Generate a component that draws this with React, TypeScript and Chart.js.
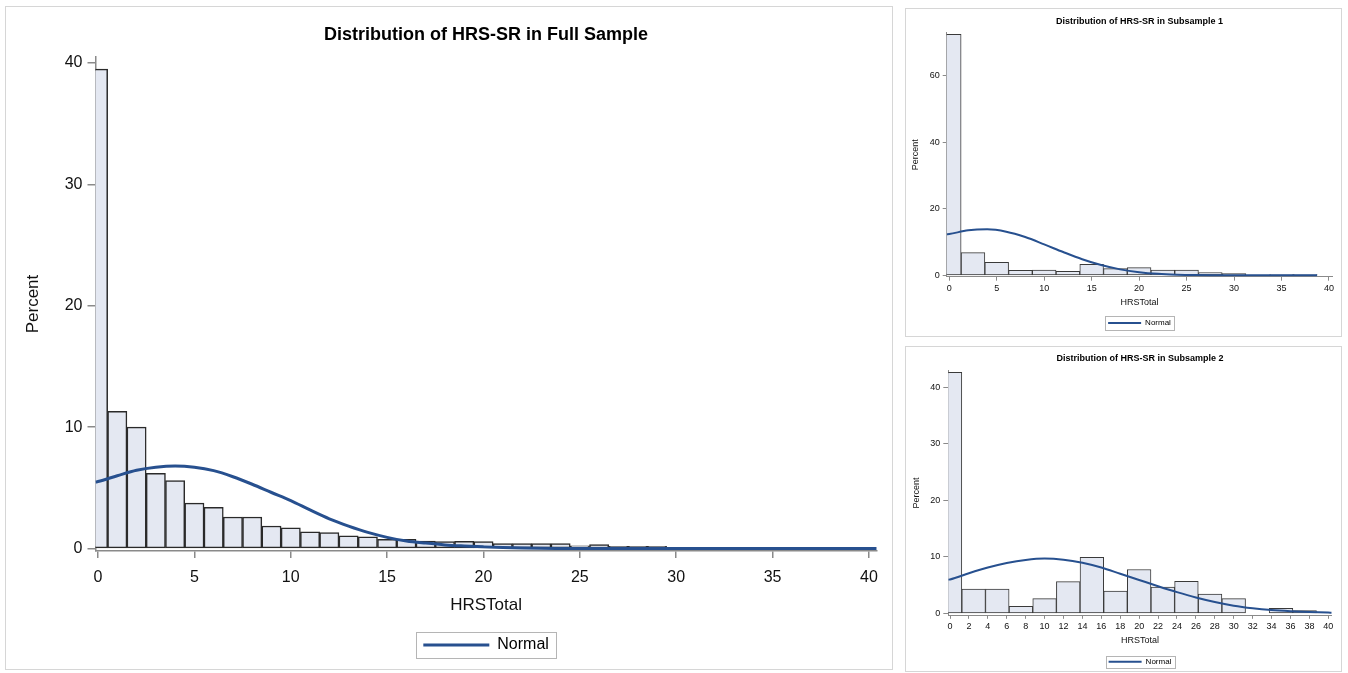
import React, { useEffect, useRef } from "react";
import { Chart, registerables } from "chart.js";

Chart.register(...registerables);

// ---------- Full sample ----------
const fullBins = [0, 1, 2, 3, 4, 5, 6, 7, 8, 9, 10, 11, 12, 13, 14, 15, 16, 17, 18, 19, 20, 21, 22, 23, 24, 25, 26, 27, 28, 29];
const fullPercent = [39.5, 11.3, 10.0, 6.2, 5.6, 3.75, 3.4, 2.6, 2.6, 1.86, 1.7, 1.37, 1.32, 1.04, 0.96, 0.77, 0.77, 0.62, 0.58, 0.6, 0.58, 0.41, 0.41, 0.41, 0.41, 0.22, 0.33, 0.19, 0.19, 0.19];
const fullCurveX = [-0.13, 0, 1, 2, 3, 4, 5, 6, 7, 8, 9, 10, 11, 12, 13, 14, 15, 16, 17, 18, 19, 20, 21, 22, 24, 26, 40.4];
const fullCurveY = [5.48, 5.52, 6.0, 6.45, 6.7, 6.8, 6.7, 6.42, 5.92, 5.3, 4.62, 3.95, 3.18, 2.45, 1.85, 1.33, 0.92, 0.63, 0.45, 0.3, 0.21, 0.14, 0.08, 0.04, 0.01, 0, 0];
const fullXTicks = [0, 5, 10, 15, 20, 25, 30, 35, 40];
const fullYTicks = [0, 10, 20, 30, 40];

// ---------- Subsample 1 ----------
const sub1Bins = [0, 2.5, 5, 7.5, 10, 12.5, 15, 17.5, 20, 22.5, 25, 27.5, 30, 32.5, 35, 37.5];
const sub1Percent = [72.3, 6.8, 3.9, 1.5, 1.6, 1.2, 3.3, 2.0, 2.3, 1.6, 1.6, 0.8, 0.5, 0, 0.2, 0.2];
const sub1CurveX = [-0.27, 0, 2, 4, 6, 8, 10, 12, 14, 16, 18, 20, 22, 24, 26, 28, 30, 38.75];
const sub1CurveY = [12.3, 12.4, 13.5, 13.8, 13.1, 11.5, 9.3, 7.0, 4.85, 3.1, 1.8, 0.95, 0.45, 0.2, 0.08, 0.03, 0.01, 0];
const sub1XTicks = [0, 5, 10, 15, 20, 25, 30, 35, 40];
const sub1YTicks = [0, 20, 40, 60];

// ---------- Subsample 2 ----------
const sub2Bins = [0, 2.5, 5, 7.5, 10, 12.5, 15, 17.5, 20, 22.5, 25, 27.5, 30, 32.5, 35, 37.5];
const sub2Percent = [42.65, 4.3, 4.3, 1.24, 2.6, 5.6, 9.9, 3.94, 7.76, 4.66, 5.66, 3.4, 2.6, 0, 0.9, 0.5];
const sub2CurveX = [-0.18, 0, 2, 4, 6, 8, 10, 12, 14, 16, 18, 20, 22, 24, 26, 28, 30, 32, 34, 36, 38, 40, 40.36];
const sub2CurveY = [5.95, 6.0, 7.1, 8.1, 8.9, 9.45, 9.7, 9.5, 8.95, 8.1, 7.0, 5.9, 4.8, 3.75, 2.8, 2.0, 1.35, 0.9, 0.58, 0.37, 0.22, 0.13, 0.12];
const sub2XTicks = [0, 2, 4, 6, 8, 10, 12, 14, 16, 18, 20, 22, 24, 26, 28, 30, 32, 34, 36, 38, 40];
const sub2YTicks = [0, 10, 20, 30, 40];

const FONT = "'Liberation Sans', Arial, Helvetica, sans-serif";
const BAR_FILL = "#e4e8f2";
const CURVE = "#27508f";
const AXIS = "#8a8a8a";
const TEXT = "#111111";

type Spec = {
  title: string;
  bins: number[];
  pct: number[];
  cx: number[];
  cy: number[];
  xTicks: number[];
  yTicks: number[];
  xMin: number; xMax: number; yMin: number; yMax: number;
  canvas: { left: number; top: number; w: number; h: number };
  area: { left: number; right: number; top: number; bottom: number };
  titleFont: number; titlePadTop: number;
  tickFont: number; axisTitleFont: number;
  xTickLen: number; xTickPad: number; yTickLen: number; yTickPad: number;
  xTitlePadBottom: number; yTitlePadTop: number;
  legendFont: number; legendPad: number; legendBoxW: number; legendLineH: number;
  framePadX: number; frameH: number;
  padBottom: number;
  curveWidth: number; barBorder: number; barEdge: string; axisWidth: number;
};

const legendFrame = {
  id: "legendFrame",
  afterDraw(chart: any, _args: any, opts: any) {
    const lg = chart.legend;
    if (!lg || !lg.legendHitBoxes || !lg.legendHitBoxes.length) return;
    const hb = lg.legendHitBoxes[0];
    const ctx = chart.ctx;
    ctx.save();
    ctx.strokeStyle = opts.color || "#bbbbbb";
    ctx.lineWidth = 1;
    const cy = hb.top + hb.height / 2;
    ctx.strokeRect(
      Math.round(hb.left - opts.padX) + 0.5,
      Math.round(cy - opts.h / 2) + 0.5,
      Math.round(hb.width + 2 * opts.padX),
      Math.round(opts.h)
    );
    ctx.restore();
  },
};

function buildConfig(s: Spec): any {
  const titlePadBottom = s.area.top - s.titlePadTop - s.titleFont * 1.2;
  const legendH = s.legendFont + s.legendPad + 10;
  const xAxisH = s.canvas.h - s.padBottom - legendH - s.area.bottom;
  const yAxisW = s.area.left;
  const padRight = s.canvas.w - s.area.right;

  return {
    type: "bar",
    data: {
      datasets: [
        {
          type: "line",
          label: "Normal",
          data: s.cx.map((x, i) => ({ x, y: s.cy[i] })),
          borderColor: CURVE,
          backgroundColor: CURVE,
          borderWidth: s.curveWidth,
          pointRadius: 0,
          tension: 0.4,
          cubicInterpolationMode: "monotone",
          fill: false,
          order: 0,
        },
        {
          type: "bar",
          label: "Percent",
          data: s.bins.map((x, i) => ({ x, y: s.pct[i] })),
          backgroundColor: BAR_FILL,
          borderColor: s.barEdge,
          borderWidth: s.barBorder,
          borderSkipped: false,
          barThickness: "flex",
          barPercentage: 1,
          categoryPercentage: 1,
          clip: 0,
          order: 1,
        },
      ],
    },
    options: {
      responsive: false,
      animation: false,
      events: [],
      layout: { padding: { left: 0, right: padRight, top: 0, bottom: s.padBottom } },
      scales: {
        x: {
          type: "linear",
          min: s.xMin,
          max: s.xMax,
          offset: false,
          afterBuildTicks: (sc: any) => {
            sc.ticks = s.xTicks.map((v) => ({ value: v }));
          },
          afterFit: (sc: any) => {
            sc.height = xAxisH;
          },
          ticks: {
            autoSkip: false,
            maxRotation: 0,
            minRotation: 0,
            padding: s.xTickPad,
            color: TEXT,
            font: { family: FONT, size: s.tickFont },
          },
          grid: {
            offset: false,
            drawOnChartArea: false,
            drawTicks: true,
            tickLength: s.xTickLen,
            color: AXIS,
            tickColor: AXIS,
            lineWidth: s.axisWidth,
          },
          border: { display: true, color: AXIS, width: s.axisWidth },
          title: {
            display: true,
            text: "HRSTotal",
            color: TEXT,
            font: { family: FONT, size: s.axisTitleFont },
            padding: { top: 0, bottom: s.xTitlePadBottom },
          },
        },
        y: {
          type: "linear",
          min: s.yMin,
          max: s.yMax,
          afterBuildTicks: (sc: any) => {
            sc.ticks = s.yTicks.map((v) => ({ value: v }));
          },
          afterFit: (sc: any) => {
            sc.width = yAxisW;
          },
          ticks: {
            padding: s.yTickPad,
            color: TEXT,
            font: { family: FONT, size: s.tickFont },
          },
          grid: {
            drawOnChartArea: false,
            drawTicks: true,
            tickLength: s.yTickLen,
            color: AXIS,
            tickColor: AXIS,
            lineWidth: s.axisWidth,
          },
          border: { display: true, color: AXIS, width: s.axisWidth },
          title: {
            display: true,
            text: "Percent",
            color: TEXT,
            font: { family: FONT, size: s.axisTitleFont },
            padding: { top: s.yTitlePadTop, bottom: 0 },
          },
        },
      },
      plugins: {
        title: {
          display: true,
          text: s.title,
          fullSize: false,
          color: "#000000",
          font: { family: FONT, size: s.titleFont, weight: "bold" },
          padding: { top: s.titlePadTop, bottom: titlePadBottom },
        },
        legend: {
          display: true,
          position: "bottom",
          align: "center",
          fullSize: false,
          labels: {
            color: "#000000",
            font: { family: FONT, size: s.legendFont },
            boxWidth: s.legendBoxW,
            boxHeight: s.legendLineH,
            padding: s.legendPad,
            generateLabels: () => [
              {
                text: "Normal",
                fillStyle: CURVE,
                strokeStyle: CURVE,
                lineWidth: 0,
                hidden: false,
                datasetIndex: 0,
                fontColor: "#000000",
              },
            ],
          },
        },
        tooltip: { enabled: false },
        legendFrame: { padX: s.framePadX, h: s.frameH, color: "#b5b5b5" },
      },
    },
    plugins: [legendFrame],
  };
}

const fullSpec: Spec = {
  title: "Distribution of HRS-SR in Full Sample",
  bins: fullBins, pct: fullPercent, cx: fullCurveX, cy: fullCurveY,
  xTicks: fullXTicks, yTicks: fullYTicks,
  xMin: -0.13, xMax: 40.4, yMin: -0.2, yMax: 40.5,
  canvas: { left: 6, top: 6, w: 886, h: 663 },
  area: { left: 89.5, right: 870.7, top: 51, bottom: 545 },
  titleFont: 18, titlePadTop: 18,
  tickFont: 16, axisTitleFont: 17,
  xTickLen: 7, xTickPad: 10, yTickLen: 8, yTickPad: 5,
  xTitlePadBottom: 11.8, yTitlePadTop: 17,
  legendFont: 16, legendPad: 10, legendBoxW: 66, legendLineH: 3,
  framePadX: 7, frameH: 26,
  padBottom: 6,
  curveWidth: 3, barBorder: 1.5, barEdge: "#2a2a2a", axisWidth: 1.5,
};

const sub1Spec: Spec = {
  title: "Distribution of HRS-SR in Subsample 1",
  bins: sub1Bins, pct: sub1Percent, cx: sub1CurveX, cy: sub1CurveY,
  xTicks: sub1XTicks, yTicks: sub1YTicks,
  xMin: -0.27, xMax: 40.35, yMin: -0.4, yMax: 72.8,
  canvas: { left: 905, top: 8, w: 437, h: 329 },
  area: { left: 41.7, right: 427.3, top: 24.7, bottom: 268.7 },
  titleFont: 9, titlePadTop: 8.3,
  tickFont: 9, axisTitleFont: 9,
  xTickLen: 4, xTickPad: 2, yTickLen: 4, yTickPad: 3,
  xTitlePadBottom: 5.6, yTitlePadTop: 5.6,
  legendFont: 8, legendPad: 5, legendBoxW: 33, legendLineH: 2,
  framePadX: 3, frameH: 14,
  padBottom: 0,
  curveWidth: 2, barBorder: 1, barEdge: "#3a3a3a", axisWidth: 1,
};

const sub2Spec: Spec = {
  title: "Distribution of HRS-SR in Subsample 2",
  bins: sub2Bins, pct: sub2Percent, cx: sub2CurveX, cy: sub2CurveY,
  xTicks: sub2XTicks, yTicks: sub2YTicks,
  xMin: -0.18, xMax: 40.36, yMin: -0.35, yMax: 42.94,
  canvas: { left: 905, top: 346, w: 437, h: 330 },
  area: { left: 43.3, right: 426.7, top: 24.7, bottom: 269.3 },
  titleFont: 9, titlePadTop: 7.6,
  tickFont: 9, axisTitleFont: 9,
  xTickLen: 3.5, xTickPad: 2, yTickLen: 5, yTickPad: 3,
  xTitlePadBottom: 6.3, yTitlePadTop: 6.3,
  legendFont: 8, legendPad: 5, legendBoxW: 33, legendLineH: 2,
  framePadX: 3, frameH: 12,
  padBottom: 0.3,
  curveWidth: 2, barBorder: 1, barEdge: "#3a3a3a", axisWidth: 1,
};

function ChartPanel({ spec }: { spec: Spec }) {
  const ref = useRef<HTMLCanvasElement | null>(null);
  useEffect(() => {
    if (!ref.current) return;
    const chart = new Chart(ref.current, buildConfig(spec));
    return () => chart.destroy();
  }, [spec]);
  const c = spec.canvas;
  return (
    <canvas
      ref={ref}
      width={c.w}
      height={c.h}
      style={{ position: "absolute", left: c.left, top: c.top, width: c.w, height: c.h }}
    />
  );
}

const frameStyle = (left: number, top: number, w: number, h: number): React.CSSProperties => ({
  position: "absolute",
  left,
  top,
  width: w,
  height: h,
  border: "1px solid #d6d6d6",
  boxSizing: "border-box",
  background: "#ffffff",
});

export default function App() {
  return (
    <div
      style={{
        position: "fixed",
        left: 0,
        top: 0,
        width: 1348,
        height: 673,
        overflow: "hidden",
        background: "#ffffff",
      }}
    >
      <div style={frameStyle(5, 6, 888, 664)} />
      <div style={frameStyle(905, 8, 437, 329)} />
      <div style={frameStyle(905, 346, 437, 326)} />
      <ChartPanel spec={fullSpec} />
      <ChartPanel spec={sub1Spec} />
      <ChartPanel spec={sub2Spec} />
    </div>
  );
}
